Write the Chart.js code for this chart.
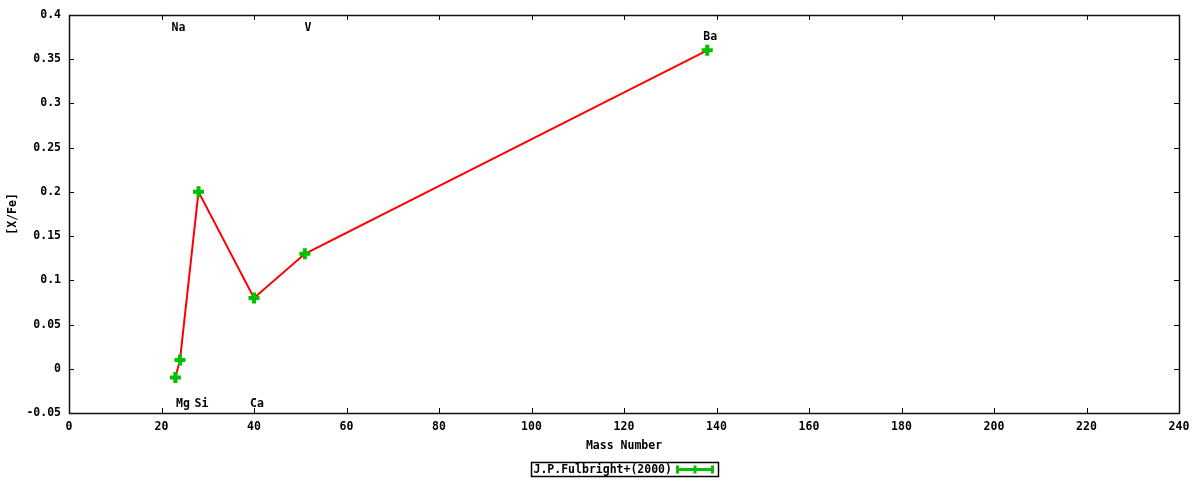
<!DOCTYPE html>
<html>
<head>
<meta charset="utf-8">
<script src="https://cdn.jsdelivr.net/npm/chart.js@4.4.1/dist/chart.umd.min.js"></script>
<style>
  html, body { margin: 0; padding: 0; background: #fff; }
  #wrap { width: 1200px; height: 480px; }
</style>
</head>
<body>
<div id="wrap"><canvas id="c" width="1200" height="480"></canvas></div>
<script>
// ---- data ----
const elements = ['Na', 'Mg', 'Si', 'Ca', 'V', 'Ba'];
const massNumbers = [23, 24, 28, 40, 51, 138];
const xFeValues = [-0.01, 0.01, 0.2, 0.08, 0.13, 0.36];
const labelYValues = [0.385, -0.04, -0.04, -0.04, 0.385, 0.375];
const xTicks = [0, 20, 40, 60, 80, 100, 120, 140, 160, 180, 200, 220, 240];
const yTicks = [-0.05, 0, 0.05, 0.1, 0.15, 0.2, 0.25, 0.3, 0.35, 0.4];
const yTickLabels = ['-0.05', '0', '0.05', '0.1', '0.15', '0.2', '0.25', '0.3', '0.35', '0.4'];
const seriesName = 'J.P.Fulbright+(2000)';
const xTitle = 'Mass Number';
const yTitle = '[X/Fe]';

const FONT = 'DejaVu Sans Mono';
const FSIZE = 11.5;
const GREEN = '#00c000';
const RED = '#ff0000';

const framePlugin = {
  id: 'frame',
  beforeDatasetsDraw(chart) {
    const {ctx, chartArea: a, scales} = chart;
    ctx.save();
    ctx.strokeStyle = '#000';
    ctx.lineWidth = 1;
    const tl = 5;
    ctx.beginPath();
    scales.x.ticks.forEach(t => {
      const px = Math.round(scales.x.getPixelForValue(t.value)) + 0.5;
      ctx.moveTo(px, a.bottom); ctx.lineTo(px, a.bottom - tl);
      ctx.moveTo(px, a.top); ctx.lineTo(px, a.top + tl);
    });
    scales.y.ticks.forEach(t => {
      const py = Math.round(scales.y.getPixelForValue(t.value)) + 0.5;
      ctx.moveTo(a.left, py); ctx.lineTo(a.left + tl, py);
      ctx.moveTo(a.right, py); ctx.lineTo(a.right - tl, py);
    });
    ctx.stroke();
    ctx.lineWidth = 1.5;
    ctx.strokeStyle = '#111';
    ctx.strokeRect(Math.round(a.left) + 0.5, Math.round(a.top) + 0.5,
                   Math.round(a.right - a.left), Math.round(a.bottom - a.top));
    ctx.restore();
  },
  afterDraw(chart) {
    const {ctx, scales} = chart;
    ctx.save();
    ctx.font = 'bold ' + FSIZE + 'px "' + FONT + '"';
    ctx.fillStyle = '#000';
    ctx.textAlign = 'center';
    ctx.textBaseline = 'middle';
    elements.forEach((el, i) => {
      const px = scales.x.getPixelForValue(massNumbers[i]) + 3;
      const py = scales.y.getPixelForValue(labelYValues[i]);
      ctx.fillText(el, px, py);
    });
    // legend
    const cx = (chart.chartArea.left + chart.chartArea.right) / 2;
    const bw = 187, bh = 14;
    const bx = Math.round(cx - bw / 2) + 0.5, by = 462.5;
    ctx.strokeStyle = '#000';
    ctx.lineWidth = 1.5;
    ctx.strokeRect(bx, by, bw, bh);
    ctx.textAlign = 'left';
    ctx.fillText(seriesName, bx + 2, by + bh / 2 + 0.5);
    const sx0 = bx + 146, sx1 = bx + 181, sy = by + bh / 2;
    ctx.strokeStyle = GREEN;
    ctx.lineWidth = 3;
    ctx.beginPath();
    ctx.moveTo(sx0, sy); ctx.lineTo(sx1, sy);
    ctx.moveTo(sx0, sy - 4); ctx.lineTo(sx0, sy + 4);
    ctx.moveTo(sx1, sy - 4); ctx.lineTo(sx1, sy + 4);
    const mx = (sx0 + sx1) / 2;
    ctx.moveTo(mx, sy - 4); ctx.lineTo(mx, sy + 4);
    ctx.stroke();
    ctx.restore();
  }
};

new Chart(document.getElementById('c'), {
  type: 'scatter',
  data: {
    datasets: [{
      label: seriesName,
      data: massNumbers.map((m, i) => ({x: m, y: xFeValues[i]})),
      showLine: true,
      borderColor: RED,
      borderWidth: 2,
      pointStyle: 'cross',
      pointRadius: 5.5,
      pointBorderWidth: 4,
      pointBorderColor: GREEN,
      pointBackgroundColor: GREEN,
      pointHoverRadius: 5.5,
      tension: 0
    }]
  },
  options: {
    responsive: false,
    devicePixelRatio: 1,
    animation: false,
    events: [],
    layout: { padding: { top: 14, right: 21, left: 0, bottom: 0 } },
    plugins: { legend: { display: false }, tooltip: { enabled: false } },
    scales: {
      x: {
        type: 'linear',
        min: 0, max: 240,
        afterBuildTicks: s => { s.ticks = xTicks.map(v => ({value: v})); },
        afterFit: s => { s.height = 67; },
        grid: { display: false, drawTicks: false },
        border: { display: false },
        ticks: {
          autoSkip: false, maxRotation: 0, padding: 7,
          color: '#000',
          font: { family: FONT, size: FSIZE, weight: 'bold' },
          callback: v => String(v)
        },
        title: {
          display: true, text: xTitle, color: '#000',
          font: { family: FONT, size: FSIZE, weight: 'bold' },
          padding: { top: 0, bottom: 27 }
        }
      },
      y: {
        type: 'linear',
        min: -0.05, max: 0.4,
        afterBuildTicks: s => { s.ticks = yTicks.map(v => ({value: v})); },
        afterFit: s => { s.width = 69; },
        grid: { display: false, drawTicks: false },
        border: { display: false },
        ticks: {
          autoSkip: false, padding: 8,
          color: '#000',
          font: { family: FONT, size: FSIZE, weight: 'bold' },
          callback: (v, i) => yTickLabels[i]
        },
        title: {
          display: true, text: yTitle, color: '#000',
          font: { family: FONT, size: FSIZE, weight: 'bold' },
          padding: { top: 6, bottom: 0 }
        }
      }
    }
  },
  plugins: [framePlugin]
});
</script>
</body>
</html>
